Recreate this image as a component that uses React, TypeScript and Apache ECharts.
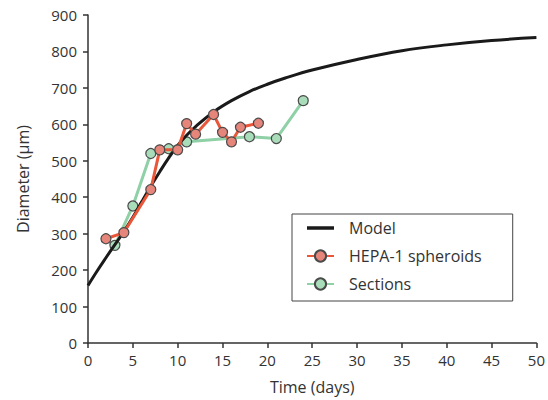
import React, { useEffect, useRef } from "react";
import * as echarts from "echarts";

const modelDays = [0, 1, 2, 3, 4, 5, 6, 7, 8, 9, 10, 11, 12, 14, 16, 18, 20, 22, 25, 30, 35, 40, 45, 50];
const modelValues = [158, 197, 234, 270, 306, 345, 388, 430, 470, 508, 542, 570, 594, 634, 665, 690, 710, 727, 749, 778, 802, 818, 830, 838];

const hepaDays = [2, 4, 7, 8, 10, 11, 12, 14, 15, 16, 17, 19];
const hepaValues = [286, 303, 421, 530, 530, 602, 573, 627, 578, 552, 592, 603];

const sectionDays = [3, 5, 7, 9, 11, 18, 21, 24];
const sectionValues = [268, 376, 520, 533, 552, 566, 561, 665];

const FONT = "'Open Sans', Lato, sans-serif";
const TXT = "#333";

const zip = (xs: number[], ys: number[]) => xs.map((x, i) => [x, ys[i]]);

const modelIcon =
  "path://M0,0L0.001,0L0,0.001Z M0,14L0.001,14L0,14.001Z M27,0L27.001,0L27,0.001Z M0,5.2H27V8.8H0Z";

export default function App() {
  const ref = useRef<HTMLDivElement>(null);
  useEffect(() => {
    if (!ref.current) return;
    const chart = echarts.init(ref.current, undefined, { renderer: "svg" });
    chart.setOption({
      animation: false,
      backgroundColor: "#fff",
      textStyle: { fontFamily: FONT },
      grid: { left: 88, right: 8, top: 15, bottom: 57 },
      legend: {
        orient: "vertical",
        left: 292,
        top: 214,
        padding: [6, 31, 9, 14],
        borderColor: "#444",
        borderWidth: 1,
        itemWidth: 27,
        itemHeight: 14,
        itemGap: 12,
        textStyle: { fontFamily: FONT, fontSize: 16, color: TXT, padding: [0, 0, 0, 10] },
        data: [
          { name: "Model", icon: modelIcon, itemStyle: { color: "#1a1a1a" } },
          "HEPA-1 spheroids",
          "Sections",
        ],
      },
      xAxis: {
        type: "value",
        min: 0,
        max: 50,
        interval: 5,
        name: "Time (days)",
        nameLocation: "middle",
        nameGap: 36,
        nameTextStyle: { fontSize: 16, color: TXT, fontFamily: FONT },
        axisLine: { show: true, lineStyle: { color: "#333", width: 1.5 } },
        axisTick: { show: true, length: 5, lineStyle: { color: "#333", width: 1.5 } },
        axisLabel: { fontSize: 15, color: TXT, margin: 9, fontFamily: FONT },
        splitLine: { show: false },
      },
      yAxis: {
        type: "value",
        min: 0,
        max: 900,
        interval: 100,
        name: "Diameter (µm)",
        nameLocation: "middle",
        nameGap: 57,
        nameRotate: 90,
        nameTextStyle: { fontSize: 16, color: TXT, fontFamily: FONT },
        axisLine: { show: true, lineStyle: { color: "#333", width: 1.5 } },
        axisTick: { show: true, length: 5, lineStyle: { color: "#333", width: 1.5 } },
        axisLabel: { fontSize: 15, color: TXT, margin: 11, fontFamily: FONT },
        splitLine: { show: false },
      },
      series: [
        {
          name: "Model",
          type: "line",
          data: zip(modelDays, modelValues),
          smooth: 0.4,
          symbol: "none",
          lineStyle: { color: "#1a1a1a", width: 3 },
          itemStyle: { color: "#1a1a1a" },
          z: 3,
        },
        {
          name: "HEPA-1 spheroids",
          type: "line",
          data: zip(hepaDays, hepaValues),
          symbol: "circle",
          symbolSize: 10,
          lineStyle: { color: "#E9573A", width: 3 },
          itemStyle: { color: "#E6857A", borderColor: "#4a4a4a", borderWidth: 1.2 },
          z: 4,
        },
        {
          name: "Sections",
          type: "line",
          data: zip(sectionDays, sectionValues),
          symbol: "circle",
          symbolSize: 10,
          lineStyle: { color: "#8FD0A6", width: 3 },
          itemStyle: { color: "#A9DDBA", borderColor: "#4a4a4a", borderWidth: 1.2 },
          z: 2,
        },
      ],
    });
    return () => chart.dispose();
  }, []);
  return <div ref={ref} style={{ width: 548, height: 400, position: "absolute", left: 0, top: 0 }} />;
}
